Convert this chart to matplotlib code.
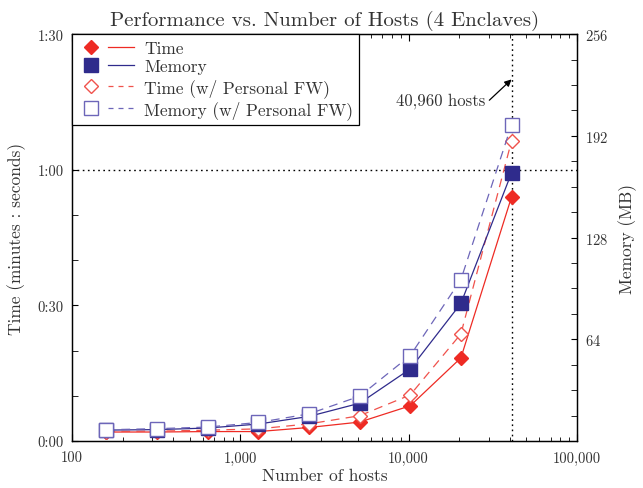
import matplotlib
matplotlib.use("Agg")
import matplotlib.pyplot as plt
from matplotlib.lines import Line2D
from matplotlib.legend_handler import HandlerTuple
from matplotlib.ticker import MultipleLocator, FuncFormatter, LogLocator, NullFormatter

# data
hosts = [160, 320, 640, 1280, 2560, 5120, 10240, 20480, 40960]
time_s = [2.0, 2.0, 2.1, 2.1, 3.0, 4.2, 7.8, 18.4, 54.0]
time_fw_s = [2.1, 2.2, 2.4, 2.7, 3.8, 5.6, 10.2, 23.7, 66.4]
mem_mb = [6.9, 7.2, 8.2, 10.7, 15.5, 23.8, 45.4, 86.6, 168.8]
mem_fw_mb = [7.1, 7.8, 8.8, 11.7, 17.1, 28.2, 53.8, 101.6, 199.0]

time_ticks = [0, 30, 60, 90]
mem_ticks = [64, 128, 192, 256]

RED = "#ee2b24"
RED_L = "#f0524c"
BLUE = "#2f2b8c"
BLUE_L = "#6d66b9"
TXT = "#333333"

plt.rcParams["font.family"] = ["cmr10", "DejaVu Serif"]
plt.rcParams["axes.formatter.use_mathtext"] = True
plt.rcParams["text.color"] = TXT
plt.rcParams["axes.labelcolor"] = TXT
plt.rcParams["xtick.labelcolor"] = TXT
plt.rcParams["ytick.labelcolor"] = TXT

fig = plt.figure(figsize=(6.43, 4.89), dpi=100)
ax = fig.add_axes([0.112, 0.096, 0.785, 0.832])
ax2 = ax.twinx()

# time series on left axis
ax.plot(hosts, time_s, color=RED, lw=0.9, marker="D", ms=7, mfc=RED, mec=RED, zorder=3)
ax.plot(hosts, time_fw_s, color=RED_L, lw=0.9, ls=(0, (7, 5)), marker="D", ms=7,
        mfc="white", mec=RED_L, mew=1.0, zorder=4)

# memory series on right axis
ax2.plot(hosts, mem_mb, color=BLUE, lw=0.9, marker="s", ms=9.5, mfc=BLUE, mec=BLUE, zorder=3)
ax2.plot(hosts, mem_fw_mb, color=BLUE_L, lw=0.9, ls=(0, (7, 5)), marker="s", ms=9.5,
         mfc="white", mec=BLUE_L, mew=1.0, zorder=4)

ax.set_xscale("log")
ax.set_xlim(100, 100000)
ax.set_ylim(0, 90)
ax2.set_ylim(0, 256)

# reference lines
ax.axhline(60, color="black", ls=(0, (1.2, 2.5)), lw=1.0, zorder=1)
ax.axvline(40960, color="black", ls=(0, (1.2, 2.5)), lw=1.0, zorder=1)

# arrow and its label
ax.annotate("", xy=(40960, 80), xytext=(-16, -15), textcoords="offset points",
            arrowprops=dict(arrowstyle="-|>", color="black", lw=0.9,
                            shrinkA=0, shrinkB=0, mutation_scale=10))
ax.annotate("40,960 hosts", xy=(40960, 80), xytext=(-19, -15), textcoords="offset points",
            ha="right", va="center", fontsize=12)

# ticks
ax.xaxis.set_major_locator(LogLocator(base=10))
ax.xaxis.set_minor_locator(LogLocator(base=10, subs=range(2, 10)))
ax.xaxis.set_minor_formatter(NullFormatter())
ax.xaxis.set_major_formatter(FuncFormatter(lambda v, p: f"{int(round(v)):,}"))

ax.set_yticks(time_ticks)
ax.yaxis.set_minor_locator(MultipleLocator(10))
ax.yaxis.set_major_formatter(FuncFormatter(lambda v, p: f"{int(v) // 60}:{int(v) % 60:02d}"))

ax2.set_yticks(mem_ticks)
ax2.yaxis.set_minor_locator(MultipleLocator(16))

ax.tick_params(axis="x", which="both", direction="in", top=True, labelsize=10.5, pad=7)
ax.tick_params(axis="x", which="major", length=5)
ax.tick_params(axis="x", which="minor", length=3)
ax.tick_params(axis="y", which="both", direction="in", right=False, length=4, labelsize=10.5, pad=6)
ax2.tick_params(axis="y", which="both", direction="in", length=4, labelsize=10.5, pad=6)

for a in (ax, ax2):
    for s in a.spines.values():
        s.set_linewidth(0.9)

ax.set_xlabel("Number of hosts", fontsize=12.5, labelpad=2)
ax.set_ylabel("Time (minutes : seconds)", fontsize=12.5, labelpad=8)
ax2.set_ylabel("Memory (MB)", fontsize=12.5, labelpad=7)
ax.set_title("Performance vs. Number of Hosts (4 Enclaves)", fontsize=15, pad=7)

# legend: marker first, then line segment
def entry(color, mfc, marker, ms, ls):
    m = Line2D([], [], ls="none", marker=marker, ms=ms, mfc=mfc, mec=color, mew=1.0)
    l = Line2D([], [], color=color, lw=0.9, ls=ls)
    return (m, l)

handles = [
    entry(RED, RED, "D", 7, "-"),
    entry(BLUE, BLUE, "s", 9.5, "-"),
    entry(RED_L, "white", "D", 7, (0, (4, 4))),
    entry(BLUE_L, "white", "s", 9.5, (0, (4, 4))),
]
labels = ["Time", "Memory", "Time (w/ Personal FW)", "Memory (w/ Personal FW)"]
leg = ax2.legend(handles, labels, loc="upper left", bbox_to_anchor=(0, 1), borderaxespad=0,
                 handler_map={tuple: HandlerTuple(ndivide=None, pad=0.3)},
                 handlelength=3.2, fontsize=12.5, frameon=True, fancybox=False,
                 edgecolor="black", framealpha=1, labelspacing=0.2, borderpad=0.35,
                 handletextpad=0.6)
leg.get_frame().set_linewidth(0.9)
leg.set_zorder(10)

fig.savefig("out.png", dpi=100)
